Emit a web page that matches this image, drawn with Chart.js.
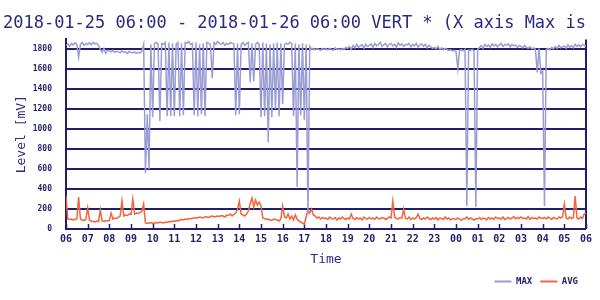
<!DOCTYPE html>
<html><head><meta charset="utf-8">
<script src="https://cdn.jsdelivr.net/npm/chart.js@4"></script>
<style>html,body{margin:0;padding:0;background:#fff}</style>
</head><body>
<canvas id="c" width="600" height="300"></canvas>
<script>
const chartTitle = '2018-01-25 06:00 - 2018-01-26 06:00 VERT * (X axis Max is';
const stepMinutes = 5;
const xTickLabels = ['06','07','08','09','10','11','12','13','14','15','16','17','18','19','20','21','22','23','00','01','02','03','04','05','06'];
const seriesNames = ['MAX', 'AVG'];

// MAX level [mV], one value every 5 minutes from 06:00
const maxLevel = [
  1840,1855,1830,1860,1845,1865,1850,1720,1850,1870,1840,1860,
  1850,1865,1845,1870,1855,1860,1840,1800,1770,1810,1760,1790,
  1785,1775,1790,1770,1780,1775,1765,1785,1770,1775,1760,1780,
  1770,1765,1775,1760,1770,1765,1780,1850,560,1150,600,1850,
  1120,1860,1870,1850,1080,1860,1850,1870,1130,1870,1130,1860,
  1130,1850,1870,1130,1860,1140,1870,1860,1880,1850,1860,1140,
  1870,1130,1850,1150,1860,1130,1870,1860,1850,1510,1870,1850,
  1880,1860,1850,1870,1840,1860,1850,1870,1860,1855,1140,1860,
  1150,1850,1870,1840,1860,1870,1470,1860,1480,1850,1870,1850,
  1120,1870,1130,1860,870,1850,1120,1860,1200,1870,1130,1860,
  1250,1850,1860,1850,1870,1860,1130,1860,420,1850,1140,1860,
  1090,1850,140,1830,1800,1810,1795,1805,1800,1790,1810,1800,
  1805,1795,1810,1800,1790,1815,1800,1805,1795,1810,1800,1820,
  1810,1830,1800,1840,1815,1850,1820,1835,1845,1810,1850,1830,
  1840,1855,1820,1860,1835,1850,1870,1830,1845,1860,1825,1850,
  1860,1835,1850,1820,1865,1840,1855,1830,1850,1845,1860,1825,
  1850,1835,1860,1820,1845,1855,1830,1850,1815,1840,1825,1810,
  1820,1805,1830,1800,1815,1795,1810,1800,1790,1795,1785,1790,
  1780,1610,1790,1795,1785,1800,230,1795,1790,1800,1785,220,
  1800,1820,1840,1810,1850,1830,1845,1820,1855,1835,1850,1825,
  1845,1860,1830,1850,1840,1855,1825,1850,1835,1845,1820,1840,
  1830,1815,1840,1820,1810,1825,1805,1815,1800,1570,1810,1560,
  1580,230,1800,1810,1795,1820,1805,1830,1810,1840,1815,1825,
  1835,1810,1845,1820,1840,1815,1850,1830,1845,1825,1850,1840,
  1830
];

// AVG level [mV], one value every 5 minutes from 06:00
const avgLevel = [
  330,100,95,100,90,95,100,320,100,90,85,95,
  210,90,80,75,70,80,75,190,80,75,85,80,
  85,160,100,110,105,120,130,280,130,140,135,150,
  145,300,150,160,155,165,175,250,60,55,60,65,
  55,60,65,60,70,65,60,70,65,75,70,80,
  75,85,80,90,95,90,100,95,105,100,110,105,
  115,110,120,115,110,125,120,115,125,130,120,125,
  130,125,135,130,120,140,135,150,130,145,160,200,
  280,150,140,130,150,180,250,310,220,290,240,270,
  230,110,105,95,100,90,85,100,95,90,80,100,
  230,120,110,150,100,130,90,140,100,80,70,60,
  50,120,190,160,200,140,130,110,120,100,115,105,
  110,95,120,105,100,115,90,110,100,120,105,95,
  110,100,150,105,95,115,100,110,90,120,105,100,
  115,100,110,95,120,105,100,115,110,95,105,120,
  110,280,120,105,100,115,110,200,105,100,120,95,
  110,100,115,150,105,95,110,100,120,105,95,110,
  100,115,90,110,105,95,120,100,110,90,105,100,
  95,110,100,85,105,100,120,95,110,100,90,105,
  100,115,95,110,105,90,115,100,110,95,120,105,
  110,100,120,95,105,115,100,110,125,100,115,105,
  120,105,110,100,125,95,115,105,110,100,120,110,
  105,115,100,120,110,95,115,105,100,120,110,125,
  250,110,100,120,105,115,330,110,100,120,105,150,
  160
];

const NAVY = '#1f1f6b';
const TEXT = '#2a2a82';
const toPoints = arr => arr.map((v, i) => ({x: i * stepMinutes / 60, y: v}));

const innerTicks = {
  id: 'innerTicks',
  beforeDatasetsDraw(chart) {
    const xs = chart.scales.x, ca = chart.chartArea, c = chart.ctx;
    c.save();
    c.strokeStyle = NAVY; c.lineWidth = 1.5;
    xs.ticks.forEach(t => {
      const px = Math.round(xs.getPixelForValue(t.value)) + 0.5;
      c.beginPath(); c.moveTo(px, ca.bottom); c.lineTo(px, ca.bottom - 5); c.stroke();
    });
    c.restore();
  }
};

new Chart(document.getElementById('c'), {
  type: 'line',
  data: {
    datasets: [
      {label: seriesNames[0], data: toPoints(maxLevel), borderColor: '#9c9cd4', backgroundColor: '#9c9cd4', borderWidth: 1.5, pointRadius: 0, tension: 0},
      {label: seriesNames[1], data: toPoints(avgLevel), borderColor: '#f2643c', backgroundColor: '#f2643c', borderWidth: 1.5, pointRadius: 0, tension: 0}
    ]
  },
  options: {
    responsive: false,
    animation: false,
    devicePixelRatio: 1,
    layout: {padding: {left: 3, right: 14, top: 0, bottom: 4}},
    plugins: {
      title: {display: true, text: chartTitle, align: 'start', color: TEXT,
        font: {family: 'DejaVu Sans Mono', size: 17, weight: 'normal'}, padding: {top: 13, bottom: 6}},
      legend: {position: 'bottom', align: 'end',
        labels: {usePointStyle: true, pointStyle: 'line', pointStyleWidth: 17, color: NAVY, padding: 8,
          font: {family: 'DejaVu Sans Mono', size: 9, weight: 'bold'},
          generateLabels(chart) {
            return Chart.defaults.plugins.legend.labels.generateLabels(chart).map(l => Object.assign(l, {lineWidth: 2}));
          }}},
      tooltip: {enabled: false}
    },
    scales: {
      x: {type: 'linear', min: 0, max: 24,
        afterFit(s) { s.height = 40; },
        ticks: {stepSize: 1, autoSkip: false, maxRotation: 0, color: NAVY, padding: 4,
          font: {family: 'DejaVu Sans Mono', size: 10, weight: 'bold'},
          callback: v => xTickLabels[v]},
        grid: {drawTicks: false, lineWidth: 2,
          color: c => (c.tick && (c.tick.value === 0 || c.tick.value === 24)) ? NAVY : 'rgba(0,0,0,0)'},
        border: {display: false},
        title: {display: true, text: 'Time', color: TEXT, font: {family: 'DejaVu Sans Mono', size: 13}, padding: {top: 0, bottom: 2}}
      },
      y: {min: 0, max: 1900,
        afterFit(s) { s.width = 63; },
        ticks: {stepSize: 100, color: NAVY, padding: 14,
          font: {family: 'DejaVu Sans Mono', size: 8, weight: 'bold'},
          callback: v => (v % 200 === 0 && v < 1900) ? String(v) : ''},
        grid: {drawTicks: false, lineWidth: 2, color: NAVY},
        border: {display: true, color: NAVY, width: 2},
        title: {display: true, text: 'Level [mV]', color: TEXT, font: {family: 'DejaVu Sans Mono', size: 13}, padding: {top: 11, bottom: 0}}
      }
    }
  },
  plugins: [innerTicks]
});
</script>
</body></html>
